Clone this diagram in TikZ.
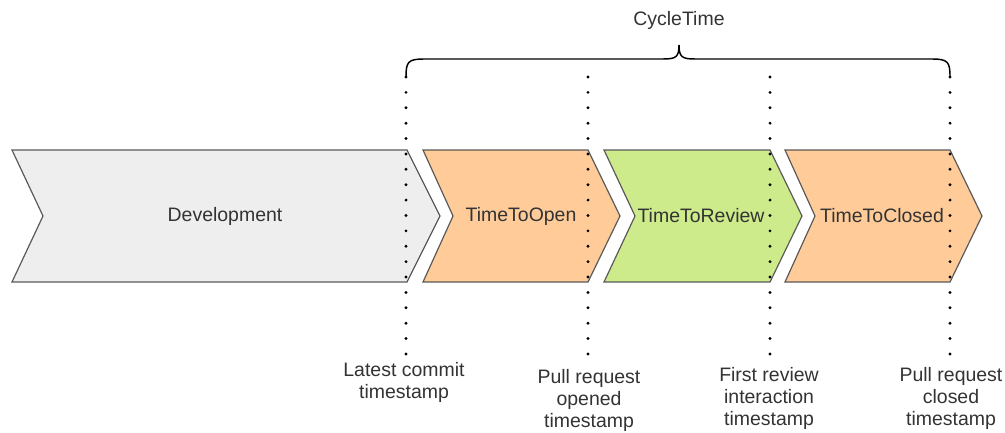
\documentclass[tikz,border=0pt]{standalone}
\usepackage{fontspec}
\setmainfont{Liberation Sans}
\definecolor{devgray}{HTML}{EEEEEE}
\definecolor{chorange}{HTML}{FFCC99}
\definecolor{chgreen}{HTML}{CDEB8B}
\definecolor{chstroke}{HTML}{5A5A5A}
\definecolor{txt}{HTML}{333333}
\tikzset{
  chev/.style={draw=chstroke, line width=0.9pt, line join=miter},
  chevgray/.style={chev, fill=devgray},
  chevorange/.style={chev, fill=chorange},
  chevgreen/.style={chev, fill=chgreen},
  lbl/.style={text=txt, inner sep=0pt, font=\fontsize{14.6}{16.5}\selectfont},
  stamp/.style={lbl, align=center, anchor=base},
  dotline/.style={line width=2.4pt, line cap=round, dash pattern=on 0pt off 11.54pt, black},
  bracestyle/.style={line width=1.1pt, black}
}
\begin{document}
\begin{tikzpicture}[x=0.75pt,y=-0.75pt]
\useasboundingbox (0,0) rectangle (1005,432);
% chevrons
\draw[chevgray] (12,150) -- (407,150) -- (440,216) -- (407,282) -- (12,282) -- (43,216) -- cycle;
\draw[chevorange] (423,150) -- (588,150) -- (620,216) -- (588,282) -- (423,282) -- (453,216) -- cycle;
\draw[chevgreen] (604,150) -- (770,150) -- (802,216) -- (770,282) -- (604,282) -- (635,216) -- cycle;
\draw[chevorange] (785,150) -- (950,150) -- (982,216) -- (950,282) -- (785,282) -- (815,216) -- cycle;
\node[lbl] (dev) at (225,216) {Development};
\node[lbl] (open) at (521,216) {TimeToOpen};
\node[lbl] (review) at (701,216) {TimeToReview};
\node[lbl] (closed) at (882,216) {TimeToClosed};
% dotted timestamp lines
\coordinate (t1top) at (406,77); \coordinate (t1bot) at (406,354);
\coordinate (t2top) at (588,77); \coordinate (t2bot) at (588,354);
\coordinate (t3top) at (770,77); \coordinate (t3bot) at (770,354);
\coordinate (t4top) at (950,77); \coordinate (t4bot) at (950,354);
\draw[dotline] (t1top) -- (t1bot);
\draw[dotline] (t2top) -- (t2bot);
\draw[dotline] (t3top) -- (t3bot);
\draw[dotline] (t4top) -- (t4bot);
% brace
\coordinate (bmid) at (679,45);
\draw[bracestyle] (t1top) .. controls (406,62) and (408,59) .. (424,59) -- (663,59)
  .. controls (676,59) and (679,57) .. (bmid)
  .. controls (679,57) and (682,59) .. (695,59) -- (932,59)
  .. controls (948,59) and (950,62) .. (t4top);
\node[lbl, anchor=base] (cycle) at (679,26) {CycleTime};
% labels (anchor base = baseline of the last line)
\node[stamp] (s1) at (404,398) {Latest commit\\timestamp};
\node[stamp] (s2) at (589,427) {Pull request\\opened\\timestamp};
\node[stamp] (s3) at (769,425) {First review\\interaction\\timestamp};
\node[stamp] (s4) at (951,425) {Pull request\\closed\\timestamp};
\end{tikzpicture}
\end{document}
